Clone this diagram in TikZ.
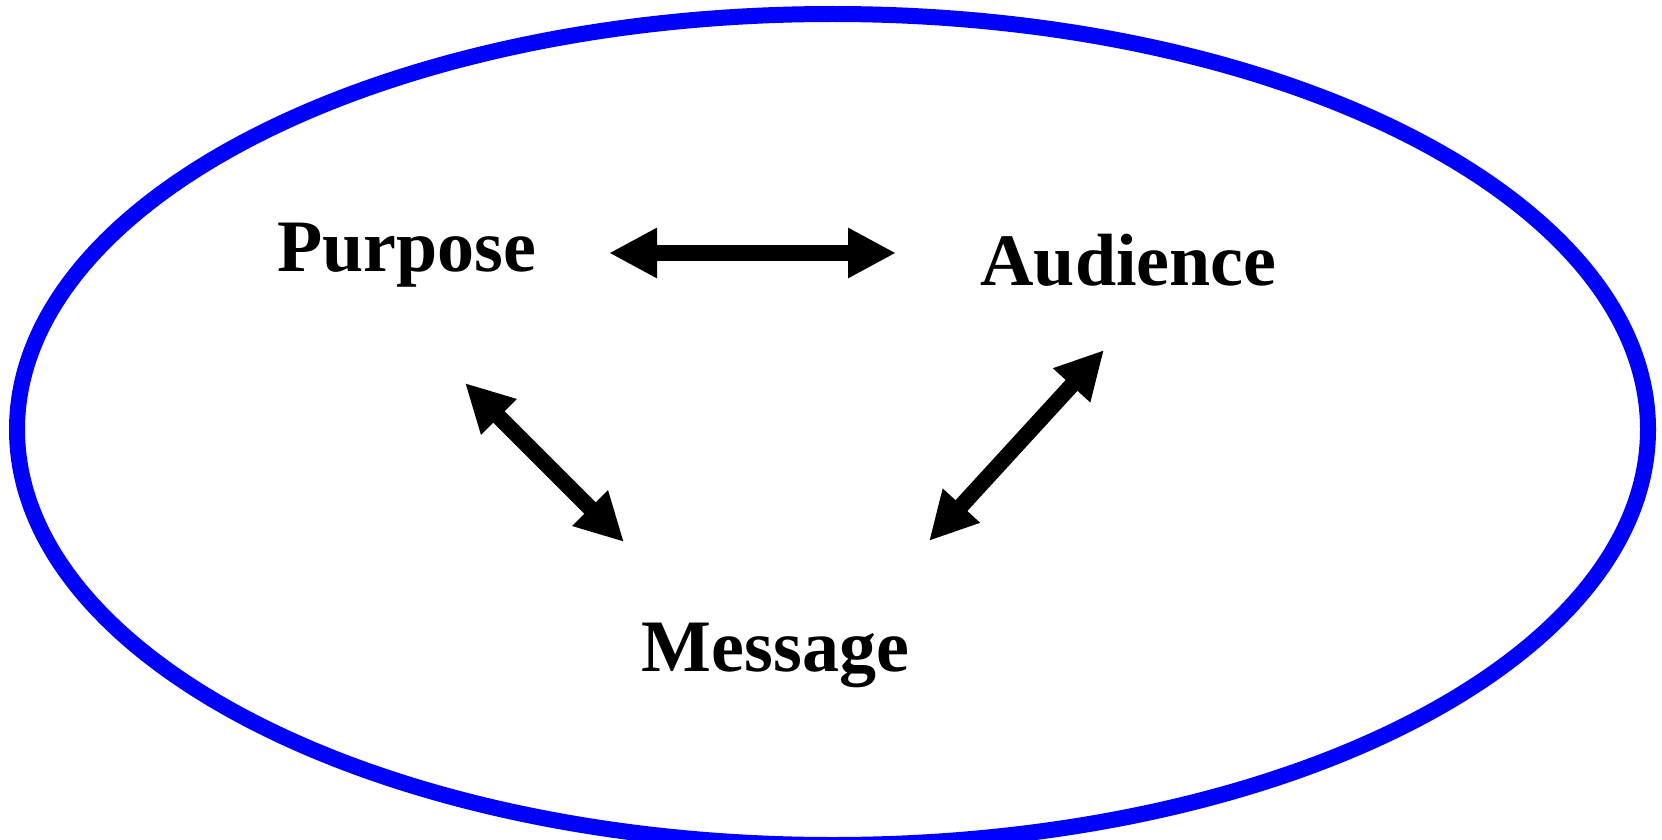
\documentclass[tikz,border=0pt]{standalone}
\usepackage{fontspec}
\setmainfont{Liberation Serif}
\usetikzlibrary{arrows.meta}
\definecolor{ringblue}{RGB}{0,0,255}
\tikzset{
  label/.style={inner sep=0pt, anchor=base, font=\fontsize{74}{80}\selectfont\bfseries},
  link/.style={line width=16pt, black, {Triangle[length=48pt,width=47pt]}-{Triangle[length=48pt,width=47pt]}},
  ring/.style={line width=16pt, draw=ringblue}
}
\begin{document}
\begin{tikzpicture}[x=1pt,y=1pt]
\useasboundingbox (0,0) rectangle (1662,-840);
\fill[white] (0,0) rectangle (1662,-840);
\draw[ring] (832.5,-429.5) ellipse [x radius=815.5, y radius=415.5];
\node[label] (purpose) at (406.5,-271) {Purpose};
\node[label] (audience) at (1128.5,-285.7) {Audience};
\node[label] (message) at (775.5,-671) {Message};
\coordinate (h1) at (609,-253);
\coordinate (h2) at (896,-253);
\coordinate (d1a) at (465,-383);
\coordinate (d1b) at (624,-542);
\coordinate (d2a) at (1104,-350);
\coordinate (d2b) at (929,-541);
\draw[link] (h1) -- (h2);
\draw[link] (d1a) -- (d1b);
\draw[link] (d2a) -- (d2b);
\end{tikzpicture}
\end{document}
